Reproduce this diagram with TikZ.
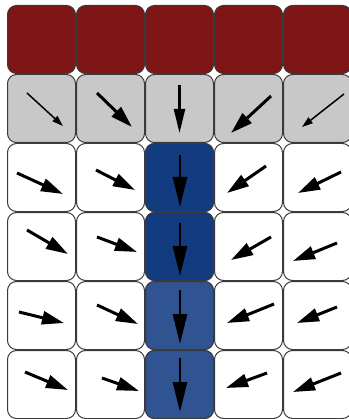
\documentclass[tikz,border=0pt]{standalone}
\usepackage{tikz}
\usetikzlibrary{arrows.meta}
\definecolor{wine}{HTML}{7E1517}
\definecolor{ash}{HTML}{C8C8C8}
\definecolor{navy}{HTML}{133B80}
\definecolor{denim}{HTML}{305392}
\definecolor{edge}{HTML}{3A3A3A}

\begin{document}
\begin{tikzpicture}[x=1pt,y=-1pt,
  cell/.style={rounded corners=9pt,draw=edge,line width=1pt,minimum size=68pt,inner sep=0pt},
  arr/.style={-{Triangle[length=22pt,width=13pt]},line width=3pt},
  thinarr/.style={-{Triangle[length=11pt,width=7pt]},line width=1.5pt},
  bigarr/.style={-{Triangle[length=30pt,width=14pt]},line width=2.8pt}
]
\useasboundingbox (0,0) rectangle (348,419);
\foreach \c in {1,...,5}{
  \node[cell,fill=wine] (c1-\c) at ({7+69*(\c-.5)},39.5) {};
  \node[cell,fill=ash] (c2-\c) at ({7+69*(\c-.5)},108.5) {};
  \foreach \r in {3,...,6}
    \node[cell,fill=white] (c\r-\c) at ({7+69*(\c-.5)},{5+69*(\r-.5)}) {};
}
\foreach \r/\col in {3/navy,4/navy,5/denim,6/denim}
  \node[cell,fill=\col] (c\r-3) at (179.5,{5+69*(\r-.5)}) {};

\draw[thinarr] (27,93) -- (63,126);
\draw[arr] (97,93) -- (132,127);
\draw[bigarr,line width=2.2pt,-{Triangle[length=24pt,width=11pt]}] (179.5,85) -- (179.5,133);
\draw[arr] (271,96) -- (231,133);
\draw[thinarr] (344,94) -- (302,127);

\foreach \xa/\ya/\xb/\yb in {17/173/63/194, 96/170/135/190, 266/166/227/193, 341/172/298/193,
  27/230/68/254, 97/237/137/252, 271/237/231/260, 337/243/293/261,
  19/312/64/323, 97/305/138/324, 274/304/227/323, 337/307/297/323,
  25/372/68/390, 102/378/139/391, 267/373/226/388, 341/373/293/392}
  \draw[arr] (\xa,\ya) -- (\xb,\yb);

\foreach \ya/\yb in {155/207, 223/276, 290/344, 358/412}
  \draw[bigarr] (180,\ya) -- (180,\yb);
\end{tikzpicture}
\end{document}
